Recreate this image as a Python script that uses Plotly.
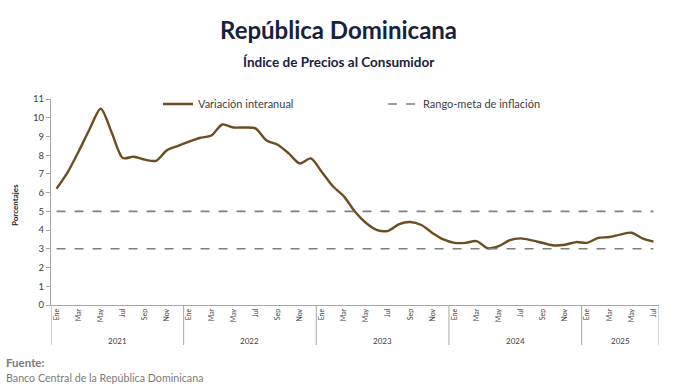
import plotly.graph_objects as go

years = ["2021", "2022", "2023", "2024", "2025"]
months = ["Ene", "Feb", "Mar", "Abr", "May", "Jun", "Jul", "Ago", "Sep", "Oct", "Nov", "Dic"]
months_per_year = [12, 12, 12, 12, 7]
shown_months = ["Ene", "Mar", "May", "Jul", "Sep", "Nov"]

variacion_interanual = [
    # 2021
    6.21, 7.08, 8.20, 9.40, 10.48, 9.20, 7.85, 7.92, 7.76, 7.70, 8.27, 8.50,
    # 2022
    8.72, 8.93, 9.05, 9.64, 9.48, 9.48, 9.43, 8.78, 8.56, 8.10, 7.56, 7.83,
    # 2023
    7.10, 6.34, 5.80, 4.98, 4.38, 4.00, 3.96, 4.32, 4.43, 4.27, 3.85, 3.50,
    # 2024
    3.32, 3.32, 3.41, 3.03, 3.14, 3.46, 3.56, 3.45, 3.31, 3.18, 3.22, 3.36,
    # 2025
    3.32, 3.58, 3.63, 3.76, 3.86, 3.56, 3.38,
]
rango_meta = [3, 5]

# build category index
x_idx = []
tick_vals, tick_text = [], []
year_bounds = []
year_centers = []
k = 0
for y, n in zip(years, months_per_year):
    year_bounds.append(k - 0.5)
    year_centers.append(k + (n - 1) / 2)
    for m in range(n):
        x_idx.append(k)
        if months[m] in shown_months:
            tick_vals.append(k)
            tick_text.append(months[m])
        k += 1
year_bounds.append(k - 0.5)

line_color = "#6b4e1f"
dash_color = "#7f7f7f"
axis_color = "#a6a6a6"
font_family = "Lato, 'Open Sans', sans-serif"

W, H = 676, 391
ML, MR, MT, MB = 51, 17, 99, 86
PW, PH = W - ML - MR, H - MT - MB


def px_x(px):
    return (px - ML) / PW


def px_y(py):
    return (H - MB - py) / PH


fig = go.Figure()
fig.add_trace(go.Scatter(
    x=x_idx, y=variacion_interanual, mode="lines", name="Variación interanual",
    line=dict(color=line_color, width=2.4, shape="spline", smoothing=0.8),
))
fig.add_trace(go.Scatter(
    x=[x_idx[0], x_idx[-1]], y=[rango_meta[1], rango_meta[1]], mode="lines",
    name="Rango-meta de inflación",
    line=dict(color=dash_color, width=1.6, dash="dash"),
))
fig.add_trace(go.Scatter(
    x=[x_idx[0], x_idx[-1]], y=[rango_meta[0], rango_meta[0]], mode="lines",
    showlegend=False, line=dict(color=dash_color, width=1.6, dash="dash"),
))

for b in year_bounds:
    fig.add_shape(type="line", xref="x", yref="paper", x0=b, x1=b, y0=0, y1=px_y(345),
                  line=dict(color=axis_color, width=1))

for y, c in zip(years, year_centers):
    fig.add_annotation(x=c, y=px_y(341), xref="x", yref="paper", text=y, showarrow=False,
                       font=dict(size=8, color="#404040", family=font_family),
                       xanchor="center", yanchor="middle")

fig.add_annotation(x=px_x(15), y=px_y(205), xref="paper", yref="paper", text="<b>Porcentajes</b>",
                   textangle=-90, showarrow=False,
                   font=dict(size=8, color="#202020", family=font_family),
                   xanchor="center", yanchor="middle")

fig.add_annotation(x=px_x(338), y=px_y(30), xref="paper", yref="paper",
                   text="<b>República Dominicana</b>", showarrow=False,
                   font=dict(size=24, color="#17213d", family=font_family),
                   xanchor="center", yanchor="middle")
fig.add_annotation(x=px_x(338), y=px_y(62), xref="paper", yref="paper",
                   text="<b>Índice de Precios al Consumidor</b>", showarrow=False,
                   font=dict(size=13.5, color="#17213d", family=font_family),
                   xanchor="center", yanchor="middle")

fig.add_annotation(x=px_x(4), y=px_y(362), xref="paper", yref="paper",
                   text="<b>Fuente:</b>", showarrow=False, xanchor="left", yanchor="middle",
                   font=dict(size=11.5, color="#7a7a7a", family=font_family))
fig.add_annotation(x=px_x(4), y=px_y(377), xref="paper", yref="paper",
                   text="Banco Central de la República Dominicana", showarrow=False,
                   xanchor="left", yanchor="middle",
                   font=dict(size=10.7, color="#7a7a7a", family=font_family))

fig.update_layout(
    width=W, height=H,
    margin=dict(l=ML, r=MR, t=MT, b=MB),
    paper_bgcolor="white", plot_bgcolor="white",
    showlegend=True,
    legend=dict(orientation="h", x=px_x(158), xanchor="left", y=px_y(104), yanchor="middle",
                bgcolor="rgba(0,0,0,0)", entrywidth=180,
                font=dict(size=11, color="#404040", family=font_family),
                itemwidth=30),
    font=dict(family=font_family, color="#404040"),
)

fig.update_xaxes(
    range=[-0.5, len(x_idx) - 0.5], tickvals=tick_vals, ticktext=tick_text, tickangle=-90,
    tickfont=dict(size=7, color="#404040"), showgrid=False, zeroline=False,
    showline=True, linecolor=axis_color, linewidth=1, ticks="",
)
fig.update_yaxes(
    range=[0, 11], dtick=1, tickfont=dict(size=9.5, color="#404040"), showgrid=False,
    zeroline=False, showline=True, linecolor=axis_color, linewidth=1,
    ticks="outside", ticklen=4, tickcolor=axis_color,
)

fig.write_html("out.html", config={"displayModeBar": False},
               post_script="document.body.style.margin='0';document.body.style.padding='0';")
